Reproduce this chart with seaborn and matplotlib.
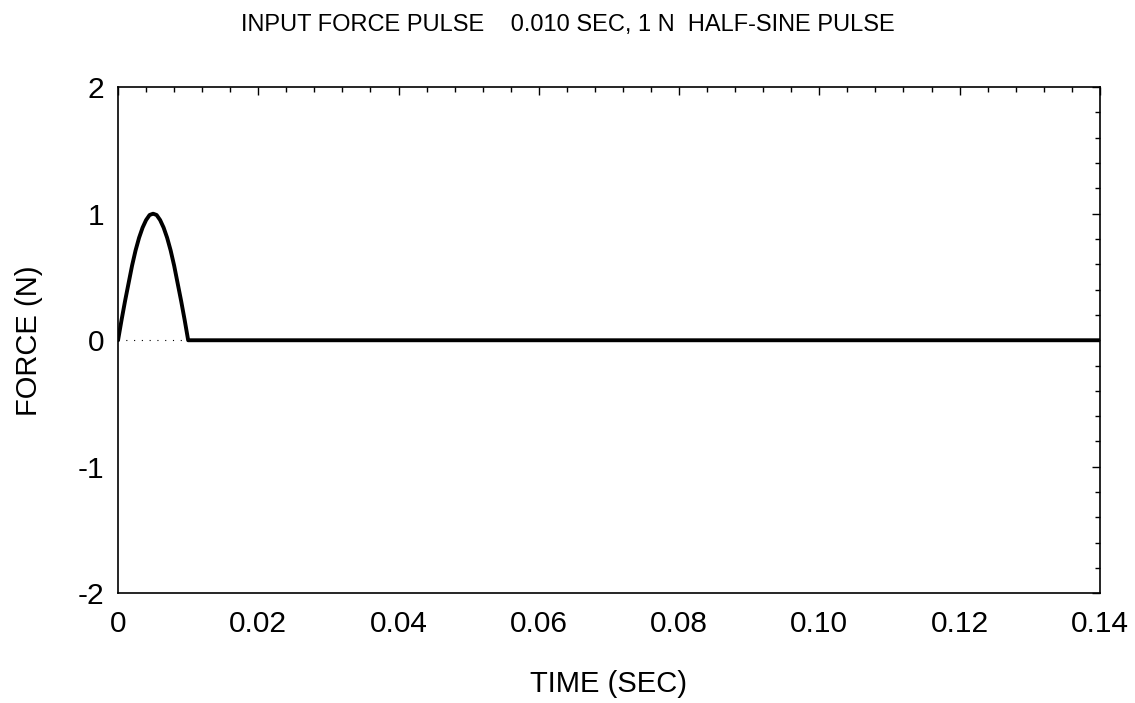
import numpy as np
import pandas as pd
import matplotlib
matplotlib.use('Agg')
import matplotlib.pyplot as plt
import seaborn as sns
from matplotlib.ticker import AutoMinorLocator

# pulse (0.010 s half-sine, 1 N peak), then zero to the end
time_sec = [0.0, 0.0005, 0.001, 0.0015, 0.002, 0.0025, 0.003, 0.0035, 0.004, 0.0045,
            0.005, 0.0055, 0.006, 0.0065, 0.007, 0.0075, 0.008, 0.0085, 0.009, 0.0095,
            0.010, 0.14]
force_n = [0.0, 0.16, 0.31, 0.45, 0.59, 0.71, 0.81, 0.89, 0.95, 0.99,
           1.0, 0.99, 0.95, 0.89, 0.81, 0.71, 0.59, 0.45, 0.31, 0.16,
           0.0, 0.0]

x_ticks = [0, 0.02, 0.04, 0.06, 0.08, 0.10, 0.12, 0.14]
x_labels = ['0', '0.02', '0.04', '0.06', '0.08', '0.10', '0.12', '0.14']
y_ticks = [-2, -1, 0, 1, 2]
y_labels = ['-2', '-1', '0', '1', '2']

df = pd.DataFrame({'time': time_sec, 'force': force_n})

sns.set_style('white')
plt.rcParams['font.family'] = ['Liberation Sans', 'DejaVu Sans']
plt.rcParams['text.color'] = 'black'
plt.rcParams['axes.labelcolor'] = 'black'
plt.rcParams['xtick.color'] = 'black'
plt.rcParams['ytick.color'] = 'black'

fig = plt.figure(figsize=(11.35, 7.03), dpi=100)
ax = fig.add_axes([0.104, 0.156, 0.865, 0.72])

# dotted zero line underneath the pulse
ax.plot([0, 0.14], [0, 0], color='black', lw=0.8, ls=(0, (1, 6)), zorder=1)
sns.lineplot(data=df, x='time', y='force', color='black', lw=2.8, ax=ax, zorder=2)

ax.set_xlim(0, 0.14)
ax.set_ylim(-2, 2)
ax.set_xticks(x_ticks)
ax.set_xticklabels(x_labels)
ax.set_yticks(y_ticks)
ax.set_yticklabels(y_labels)
ax.xaxis.set_minor_locator(AutoMinorLocator(5))
ax.yaxis.set_minor_locator(AutoMinorLocator(5))
ax.tick_params(which='both', direction='in', top=True, right=True,
               labelsize=21.5, width=1)
ax.tick_params(axis='x', which='major', pad=12)
ax.tick_params(axis='y', which='major', pad=10)
ax.tick_params(which='major', length=6)
ax.tick_params(which='minor', length=3.5)
for s in ax.spines.values():
    s.set_color('black')
    s.set_linewidth(1.2)

ax.set_xlabel('TIME (SEC)', fontsize=21, labelpad=23)
ax.set_ylabel('FORCE (N)', fontsize=21, labelpad=25)
fig.suptitle('INPUT FORCE PULSE    0.010 SEC, 1 N  HALF-SINE PULSE', fontsize=17, y=0.98)

fig.savefig('out.png', dpi=100)
